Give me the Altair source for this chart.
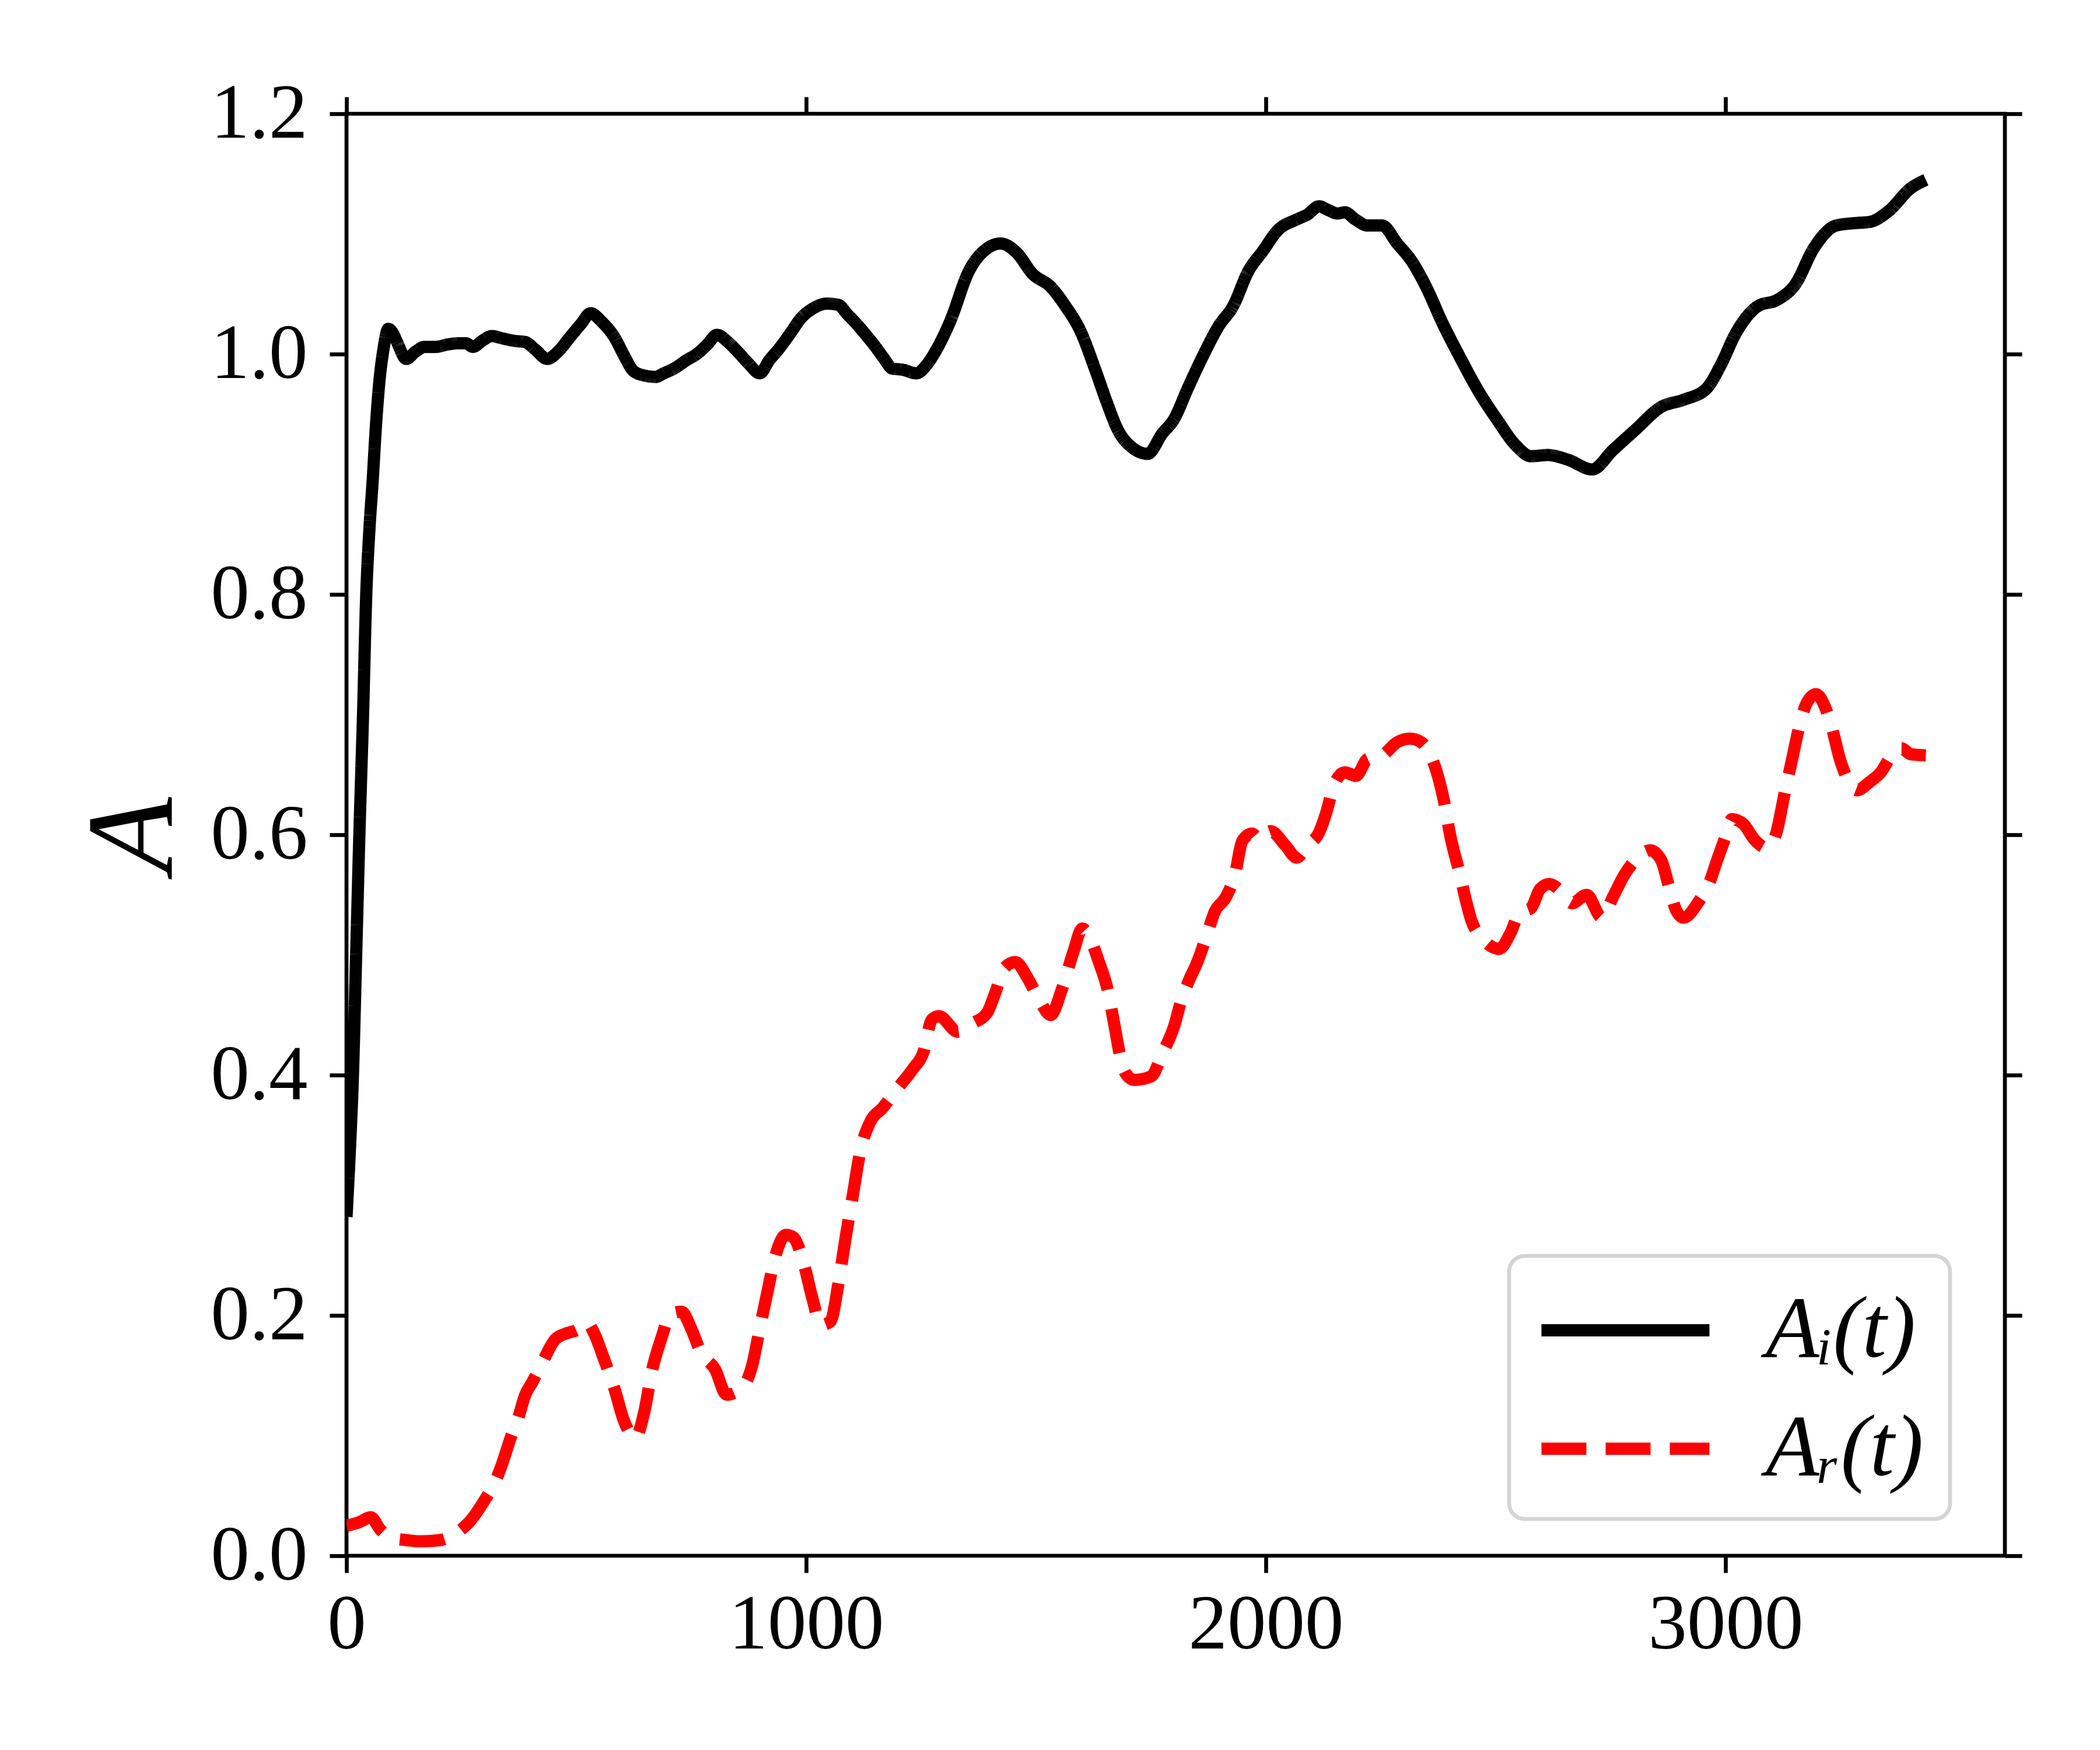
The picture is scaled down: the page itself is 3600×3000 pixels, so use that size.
import altair as alt
import pandas as pd

# ---- data ----
SERIES = ["A\u1d62(t)", "A\u1d63(t)"]

t_i = [0, 7, 14, 21, 28, 36, 43, 50, 57, 64, 71, 80, 91, 100, 110, 130, 150, 170, 194, 220,
       243, 260, 275, 295, 316, 340, 365, 389, 410, 437, 460, 486, 510, 531, 555, 583, 605, 624,
       650, 673, 690, 713, 740, 762, 785, 806, 830, 851, 875, 899, 920, 940, 965, 989, 1015, 1045,
       1070, 1090, 1110, 1130, 1151, 1170, 1187, 1210, 1240, 1260, 1281, 1313, 1354, 1394, 1423,
       1459, 1492, 1532, 1564, 1597, 1629, 1654, 1678, 1710, 1743, 1775, 1799, 1832, 1864, 1897,
       1929, 1962, 1994, 2026, 2067, 2090, 2116, 2135, 2156, 2172, 2195, 2221, 2253, 2286, 2318,
       2350, 2383, 2423, 2463, 2504, 2544, 2577, 2613, 2658, 2710, 2755, 2804, 2860, 2909, 2958,
       2990, 3022, 3071, 3112, 3152, 3192, 3241, 3282, 3314, 3355, 3403, 3436]
a_i = [0.282, 0.335, 0.40, 0.50, 0.60, 0.70, 0.80, 0.855, 0.895, 0.94, 0.975, 1.003, 1.021, 1.018,
       1.010, 0.996, 1.002, 1.006, 1.006, 1.008, 1.009, 1.009, 1.006, 1.011, 1.015, 1.013, 1.011,
       1.010, 1.004, 0.996, 1.002, 1.014, 1.025, 1.034, 1.027, 1.014, 0.998, 0.986, 0.982, 0.981,
       0.984, 0.988, 0.995, 1.000, 1.008, 1.016, 1.010, 1.002, 0.992, 0.984, 0.995, 1.004, 1.017,
       1.030, 1.038, 1.042, 1.041, 1.033, 1.025, 1.016, 1.006, 0.996, 0.988, 0.987, 0.984, 0.990,
       1.002, 1.027, 1.069, 1.088, 1.092, 1.084, 1.067, 1.056, 1.040, 1.019, 0.987, 0.960, 0.937,
       0.922, 0.917, 0.934, 0.945, 0.973, 0.999, 1.023, 1.040, 1.069, 1.086, 1.103, 1.112, 1.116,
       1.123, 1.120, 1.117, 1.118, 1.112, 1.107, 1.107, 1.092, 1.077, 1.055, 1.027, 0.997, 0.969,
       0.945, 0.924, 0.915, 0.916, 0.912, 0.904, 0.920, 0.937, 0.956, 0.962, 0.971, 0.991, 1.017,
       1.040, 1.045, 1.058, 1.088, 1.107, 1.109, 1.110, 1.119, 1.138, 1.145]

t_r = [0, 28, 53, 73, 97, 130, 162, 203, 243, 267, 300, 324, 340, 357, 373, 389, 405, 425, 454,
       478, 502, 523, 539, 559, 583, 604, 628, 648, 664, 685, 705, 729, 750, 770, 802, 827, 859,
       883, 899, 916, 932, 956, 972, 997, 1013, 1033, 1053, 1070, 1086, 1102, 1118, 1138, 1167,
       1199, 1232, 1256, 1273, 1289, 1330, 1362, 1394, 1411, 1431, 1455, 1483, 1508, 1532, 1556,
       1581, 1601, 1621, 1637, 1654, 1670, 1682, 1694, 1714, 1751, 1775, 1800, 1816, 1832, 1852,
       1872, 1889, 1913, 1933, 1949, 1970, 1986, 2010, 2043, 2067, 2091, 2116, 2132, 2148, 2172,
       2196, 2221, 2253, 2286, 2314, 2338, 2360, 2386, 2402, 2423, 2435, 2447, 2471, 2508, 2532,
       2552, 2577, 2597, 2617, 2642, 2666, 2698, 2731, 2755, 2779, 2804, 2836, 2860, 2877, 2893,
       2909, 2941, 2966, 2982, 2998, 3014, 3039, 3063, 3091, 3111, 3128, 3144, 3160, 3176, 3197,
       3217, 3233, 3249, 3266, 3286, 3314, 3338, 3363, 3383, 3403, 3436]
a_r = [0.025, 0.028, 0.032, 0.022, 0.015, 0.013, 0.012, 0.013, 0.020, 0.028, 0.046, 0.062, 0.078,
       0.098, 0.114, 0.134, 0.145, 0.160, 0.180, 0.185, 0.188, 0.194, 0.185, 0.165, 0.139, 0.112,
       0.098, 0.120, 0.153, 0.181, 0.201, 0.203, 0.189, 0.170, 0.155, 0.134, 0.139, 0.159, 0.189,
       0.220, 0.248, 0.267, 0.265, 0.240, 0.215, 0.192, 0.195, 0.226, 0.265, 0.301, 0.337, 0.360,
       0.373, 0.389, 0.405, 0.420, 0.446, 0.449, 0.436, 0.443, 0.452, 0.468, 0.489, 0.494, 0.480,
       0.462, 0.450, 0.471, 0.502, 0.522, 0.511, 0.494, 0.474, 0.443, 0.418, 0.402, 0.396, 0.399,
       0.418, 0.440, 0.462, 0.478, 0.495, 0.517, 0.536, 0.548, 0.567, 0.595, 0.601, 0.596, 0.603,
       0.591, 0.581, 0.591, 0.602, 0.619, 0.641, 0.652, 0.649, 0.663, 0.666, 0.677, 0.680, 0.677,
       0.665, 0.631, 0.598, 0.566, 0.546, 0.529, 0.514, 0.505, 0.518, 0.535, 0.539, 0.555, 0.559,
       0.553, 0.543, 0.550, 0.531, 0.548, 0.566, 0.579, 0.587, 0.579, 0.557, 0.537, 0.531, 0.544,
       0.561, 0.579, 0.596, 0.613, 0.609, 0.596, 0.589, 0.602, 0.633, 0.661, 0.689, 0.709, 0.717,
       0.706, 0.687, 0.663, 0.646, 0.637, 0.644, 0.652, 0.667, 0.672, 0.667, 0.666]

X_TICKS = [0, 1000, 2000, 3000]
Y_TICKS = [0.0, 0.2, 0.4, 0.6, 0.8, 1.0, 1.2]
X_DOMAIN = [0, 3608]
Y_DOMAIN = [0, 1.2]

df = pd.concat([
    pd.DataFrame({"t": t_i, "A": a_i, "series": SERIES[0]}),
    pd.DataFrame({"t": t_r, "A": a_r, "series": SERIES[1]}),
], ignore_index=True)

FONT = "Liberation Serif"
W, H = 2843, 2472

legend = alt.Legend(
    title=None, orient="none", legendX=1993, legendY=1958,
    symbolType="M-1,0H3", symbolSize=20736, symbolStrokeWidth=21,
    labelFont=FONT, labelFontSize=150, labelFontStyle="italic", labelColor="black",
    labelOffset=230, labelLimit=2000, rowPadding=45, padding=45,
    fillColor="white", strokeColor="#d4d4d4", cornerRadius=27,
)

xs = alt.Scale(domain=X_DOMAIN, nice=False, zero=False)
ys = alt.Scale(domain=Y_DOMAIN, nice=False, zero=False)

lines = alt.Chart(df).mark_line(strokeWidth=21, clip=True, interpolate="monotone").encode(
    x=alt.X("t:Q", scale=xs, title=None,
            axis=alt.Axis(orient="bottom", values=X_TICKS, format="d", labelPadding=24,
                          labelFlush=False, labelLimit=2000)),
    y=alt.Y("A:Q", scale=ys,
            axis=alt.Axis(orient="left", values=Y_TICKS, format=".1f", labelPadding=38,
                          labelFlush=False, labelLimit=2000,
                          title="A", titleFont=FONT, titleFontSize=212, titleFontStyle="italic",
                          titleFontWeight="normal", titleColor="black", titleAngle=270,
                          titleX=-365, titleY=1236, titleAlign="center", titleBaseline="middle")),
    color=alt.Color("series:N", scale=alt.Scale(domain=SERIES, range=["black", "red"]), legend=legend),
    strokeDash=alt.StrokeDash("series:N", scale=alt.Scale(domain=SERIES, range=[[1, 0], [77, 33]]),
                              legend=legend),
)

frame = alt.Chart(df).mark_line(opacity=0).encode(
    x=alt.X("t:Q", scale=xs, title=None,
            axis=alt.Axis(orient="top", values=X_TICKS, labels=False)),
    y=alt.Y("A:Q", scale=ys, title=None,
            axis=alt.Axis(orient="right", values=Y_TICKS, labels=False)),
    detail="series:N",
)

chart = alt.layer(lines, frame).resolve_scale(x="independent", y="independent").properties(
    width=W, height=H,
    autosize=alt.AutoSizeParams(type="none"),
    padding={"left": 586, "top": 187, "right": 155, "bottom": 325},
    background="white",
).configure_view(
    stroke="black", strokeWidth=6.7,
).configure_axis(
    grid=False, domain=False, ticks=True, tickColor="black", tickWidth=6.7, tickSize=29,
    labelFont=FONT, labelFontSize=133, labelColor="black",
).configure_legend(
    strokeWidth=6.7,
)

chart.save("out.html", embed_options={"renderer": "svg", "actions": False})
